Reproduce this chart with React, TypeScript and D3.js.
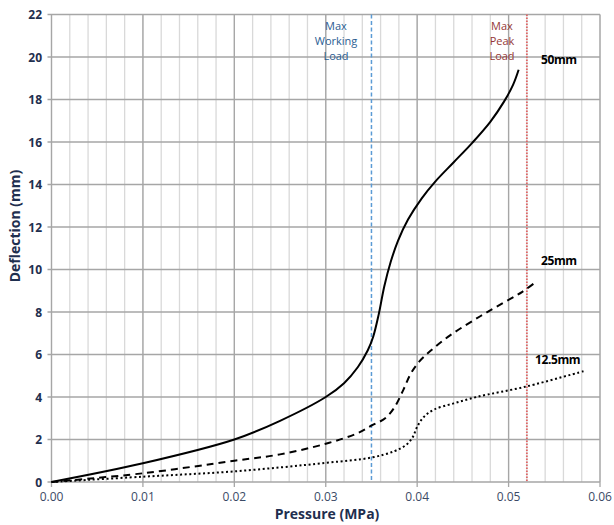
import React from 'react';
import { scaleLinear, line, curveCatmullRom, range } from 'd3';

// pressure (MPa) / deflection (mm)
const p50 = [0, 0.01, 0.02, 0.025, 0.03, 0.032, 0.0335, 0.0346, 0.0352, 0.0358, 0.0364, 0.0371, 0.0379, 0.039, 0.0405, 0.042, 0.044, 0.046, 0.048, 0.0495, 0.0505, 0.0511];
const d50 = [0, 0.88, 2.0, 2.88, 4.0, 4.65, 5.4, 6.2, 6.85, 7.9, 9.2, 10.35, 11.35, 12.35, 13.35, 14.15, 15.05, 15.95, 16.95, 17.9, 18.7, 19.4];

const p25 = [0, 0.01, 0.02, 0.025, 0.03, 0.0335, 0.035, 0.0365, 0.0375, 0.0385, 0.0393, 0.0402, 0.0414, 0.0436, 0.0469, 0.0495, 0.0515, 0.0531];
const d25 = [0, 0.41, 1.0, 1.3, 1.8, 2.3, 2.65, 3.0, 3.5, 4.35, 5.1, 5.65, 6.15, 6.9, 7.8, 8.45, 8.95, 9.45];

const p125 = [0, 0.01, 0.02, 0.03, 0.035, 0.0375, 0.0388, 0.0395, 0.04, 0.0407, 0.0418, 0.044, 0.0465, 0.052, 0.0584];
const d125 = [0, 0.25, 0.5, 0.9, 1.15, 1.45, 1.75, 2.1, 2.6, 3.05, 3.4, 3.7, 4.0, 4.5, 5.24];

const xTicks = [0, 0.01, 0.02, 0.03, 0.04, 0.05, 0.06];
const yTicks = [0, 2, 4, 6, 8, 10, 12, 14, 16, 18, 20, 22];

const maxWorking = 0.035;
const maxPeak = 0.052;

const series = [
  { name: '50mm', p: p50, d: d50, dash: 'none', lx: 541, ly: 64 },
  { name: '25mm', p: p25, d: d25, dash: '7,5', lx: 541, ly: 265 },
  { name: '12.5mm', p: p125, d: d125, dash: '2,2.6', lx: 535, ly: 364 },
];

const W = 614;
const H = 525;

export default function App() {
  const x = scaleLinear().domain([0, 0.06]).range([51.5, 600]);
  const y = scaleLinear().domain([0, 22]).range([482, 14.5]);
  const minor = range(0, 0.0601, 0.002);
  const gen = line<[number, number]>()
    .x((d) => x(d[0]))
    .y((d) => y(d[1]))
    .curve(curveCatmullRom.alpha(0.5));
  const font = "'Open Sans', sans-serif";
  const navy = '#1f2f4f';

  return (
    <svg
      width={W}
      height={H}
      style={{ position: 'absolute', left: 0, top: 0, background: '#fff' }}
      fontFamily={font}
    >
      {/* minor vertical grid */}
      {minor.map((v, i) => (
        <line key={'m' + i} x1={x(v)} x2={x(v)} y1={y(22)} y2={y(0)} stroke="#d9d9d9" strokeWidth={1.3} />
      ))}
      {xTicks.map((v) => (
        <line key={'gx' + v} x1={x(v)} x2={x(v)} y1={y(22)} y2={y(0) + 5} stroke="#a6a6a6" strokeWidth={1.3} />
      ))}
      {yTicks.map((v) => (
        <line key={'gy' + v} x1={x(0) - 4} x2={x(0.06)} y1={y(v)} y2={y(v)} stroke="#a6a6a6" strokeWidth={1.3} />
      ))}

      {/* tick labels */}
      {xTicks.map((v) => (
        <text key={'tx' + v} x={x(v)} y={501} textAnchor="middle" fontSize={12} fill="#3b4a66">
          {v.toFixed(2)}
        </text>
      ))}
      {yTicks.map((v) => (
        <text key={'ty' + v} x={42} y={y(v) + 4.5} textAnchor="end" fontSize={12} fontWeight="bold" fill={navy}>
          {v}
        </text>
      ))}

      {/* reference lines */}
      <line x1={x(maxWorking)} x2={x(maxWorking)} y1={y(22)} y2={y(0)} stroke="#5b9bd5" strokeWidth={1.5} strokeDasharray="4,2.5" />
      <line x1={x(maxPeak)} x2={x(maxPeak)} y1={y(22)} y2={y(0)} stroke="#e06666" strokeWidth={1.8} strokeDasharray="1.5,1.5" />

      <g fontSize={11} textAnchor="middle" fill="#2a5d92">
        <text x={336} y={30}>Max</text>
        <text x={336} y={45}>Working</text>
        <text x={336} y={60}>Load</text>
      </g>
      <g fontSize={11} textAnchor="middle" fill="#953735">
        <text x={502} y={30}>Max</text>
        <text x={502} y={45}>Peak</text>
        <text x={502} y={60}>Load</text>
      </g>

      {/* curves */}
      {series.map((s) => (
        <g key={s.name}>
          <path
            d={gen(s.p.map((v, i) => [v, s.d[i]] as [number, number])) || ''}
            fill="none"
            stroke="#000"
            strokeWidth={2}
            strokeDasharray={s.dash}
          />
          <text x={s.lx} y={s.ly} fontSize={12} fontWeight="bold" fill="#000" letterSpacing={-0.4}>
            {s.name}
          </text>
        </g>
      ))}

      {/* axis titles */}
      <text x={327} y={519} textAnchor="middle" fontSize={14} fontWeight="bold" fill={navy}>
        Pressure (MPa)
      </text>
      <text
        transform={`translate(20, 226) rotate(-90)`}
        textAnchor="middle"
        fontSize={14}
        fontWeight="bold"
        fill={navy}
      >
        Deflection (mm)
      </text>
    </svg>
  );
}
